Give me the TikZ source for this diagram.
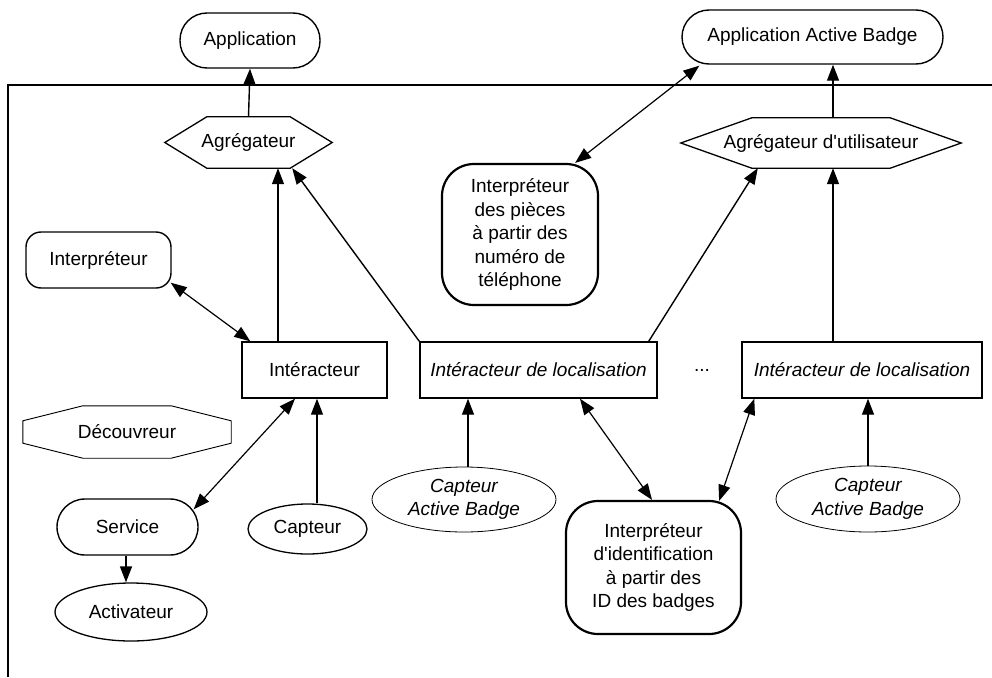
\documentclass[tikz,border=0pt]{standalone}
\usepackage{fontspec}
\setmainfont{Liberation Sans}[Ligatures=TeXOff]
\usetikzlibrary{arrows.meta,shapes.geometric}
\begin{document}
\begin{tikzpicture}[x=1pt,y=-1pt,
  every node/.style={font=\fontsize{19}{23.5}\selectfont, inner sep=0pt, align=center},
  rectbox/.style={draw, line width=1.4pt, fill=white, minimum height=56pt},
  pill/.style={draw, line width=1.4pt, fill=white, rounded corners=27pt, minimum height=55pt},
  roundbox/.style={draw, line width=1.4pt, fill=white, rounded corners=15pt, minimum height=56pt},
  bigbox/.style={draw, line width=2.2pt, fill=white, rounded corners=32pt},
  ell/.style={draw, ellipse, line width=1.3pt, fill=white},
  thinell/.style={draw, ellipse, line width=0.8pt, fill=white, font=\fontsize{19}{23.5}\selectfont\itshape},
  plain/.style={minimum height=51pt},
  tip/.tip={Triangle[length=16pt,width=12pt]},
  arr/.style={-tip, line width=1.4pt},
  darr/.style={tip-tip, line width=1.2pt},
  frame/.style={line width=1.5pt}
]
\useasboundingbox (0,0) rectangle (992,677);

% frame
\draw[frame] (8,677) -- (8,85) -- (992,85);

% top applications
\node[pill, minimum width=140pt] (app) at (250,40.5) {Application};
\node[pill, minimum width=261pt, minimum height=54pt] (aab) at (812.5,37) {Application Active Badge};

% aggregators (hexagons)
\node[plain, minimum width=167pt] (agg) at (248.5,142.5) {Agrégateur};
\draw[line width=1.3pt] (agg.west) -- ([xshift=42pt]agg.north west) -- ([xshift=-42pt]agg.north east)
  -- (agg.east) -- ([xshift=-42pt]agg.south east) -- ([xshift=42pt]agg.south west) -- cycle;
\node[plain, minimum width=280pt, minimum height=50pt] (aggu) at (821,143) {Agrégateur d'utilisateur};
\draw[line width=1.3pt] (aggu.west) -- ([xshift=71pt]aggu.north west) -- ([xshift=-71pt]aggu.north east)
  -- (aggu.east) -- ([xshift=-71pt]aggu.south east) -- ([xshift=71pt]aggu.south west) -- cycle;

% interpreters
\node[roundbox, minimum width=145pt] (interp) at (98.5,260) {Interpréteur};
\node[bigbox, minimum width=156pt, minimum height=141pt] (pieces) at (520,234.5)
  {Interpréteur\\des pièces\\à partir des\\numéro de\\téléphone};
\node[bigbox, minimum width=175pt, minimum height=133pt] (ident) at (653.5,567.5)
  {Interpréteur\\d'identification\\à partir des\\ID des badges};

% interactors
\node[rectbox, minimum width=145pt] (int) at (314.5,370) {Intéracteur};
\node[rectbox, minimum width=237pt, font=\fontsize{19}{23.5}\selectfont\itshape] (loca) at (538.5,370) {Intéracteur de localisation};
\node[rectbox, minimum width=240pt, font=\fontsize{19}{23.5}\selectfont\itshape] (locb) at (862,370) {Intéracteur de localisation};
\node (dots) at (702,370) {...};

% discoverer (octagon)
\node[minimum width=208pt, minimum height=52pt] (disc) at (127,432) {Découvreur};
\draw[line width=0.9pt] ([xshift=60pt]disc.north west) -- ([xshift=-60pt]disc.north east)
  -- ([yshift=-15pt]disc.north east) -- ([yshift=15pt]disc.south east)
  -- ([xshift=-60pt]disc.south east) -- ([xshift=60pt]disc.south west)
  -- ([yshift=15pt]disc.south west) -- ([yshift=-15pt]disc.north west) -- cycle;

% service, sensors, actuator
\node[pill, minimum width=141pt, minimum height=56pt, rounded corners=28pt] (serv) at (127.5,527) {Service};
\node[ell, minimum width=119pt, minimum height=50pt] (capt) at (307.5,529) {Capteur};
\node[ell, minimum width=152pt, minimum height=58pt] (act) at (131,612) {Activateur};
\node[thinell, minimum width=184pt, minimum height=65pt] (caba) at (464,499.5) {Capteur\\Active Badge};
\node[thinell, minimum width=184pt, minimum height=66pt] (cabb) at (868,499) {Capteur\\Active Badge};

% connectors
\draw[arr] (agg.north) -- (app.south);
\draw[arr] ([xshift=-36.5pt]int.north) -- ([xshift=-36.5pt]int.north |- agg.south);
\draw[arr] (loca.north west) -- ([xshift=-40pt]agg.south east);
\draw[arr] ([xshift=-9pt]loca.north east) -- ([xshift=77pt]aggu.south west);
\draw[arr] ([xshift=-29pt]locb.north) -- ([xshift=-29pt]locb.north |- aggu.south);
\draw[arr] ([xshift=12pt]aggu.north) -- ([xshift=12pt]aggu.north |- aab.south);
\draw[darr] ([xshift=-24pt]pieces.north east) -- ([xshift=18pt,yshift=-1pt]aab.south west);
\draw[darr] ([xshift=-1pt,yshift=6pt]interp.south east) -- ([xshift=9pt]int.north west);
\draw[darr] ([xshift=-5pt,yshift=-11pt]serv.north east) -- ([xshift=-19.5pt]int.south);
\draw[arr] ([xshift=9.5pt]capt.north) -- ([xshift=9.5pt]capt.north |- int.south);
\draw[arr] ([xshift=-1.5pt]serv.south) -- ([xshift=-1.5pt]serv.south |- act.north);
\draw[arr] ([xshift=4pt]caba.north) -- ([xshift=4pt]caba.north |- loca.south);
\draw[darr] ([xshift=41.5pt]loca.south) -- ([xshift=-1.5pt]ident.north);
\draw[darr] ([xshift=13pt]locb.south west) -- ([xshift=-23pt,yshift=-1pt]ident.north east);
\draw[arr] (cabb.north) -- (cabb.north |- locb.south);
\end{tikzpicture}
\end{document}
